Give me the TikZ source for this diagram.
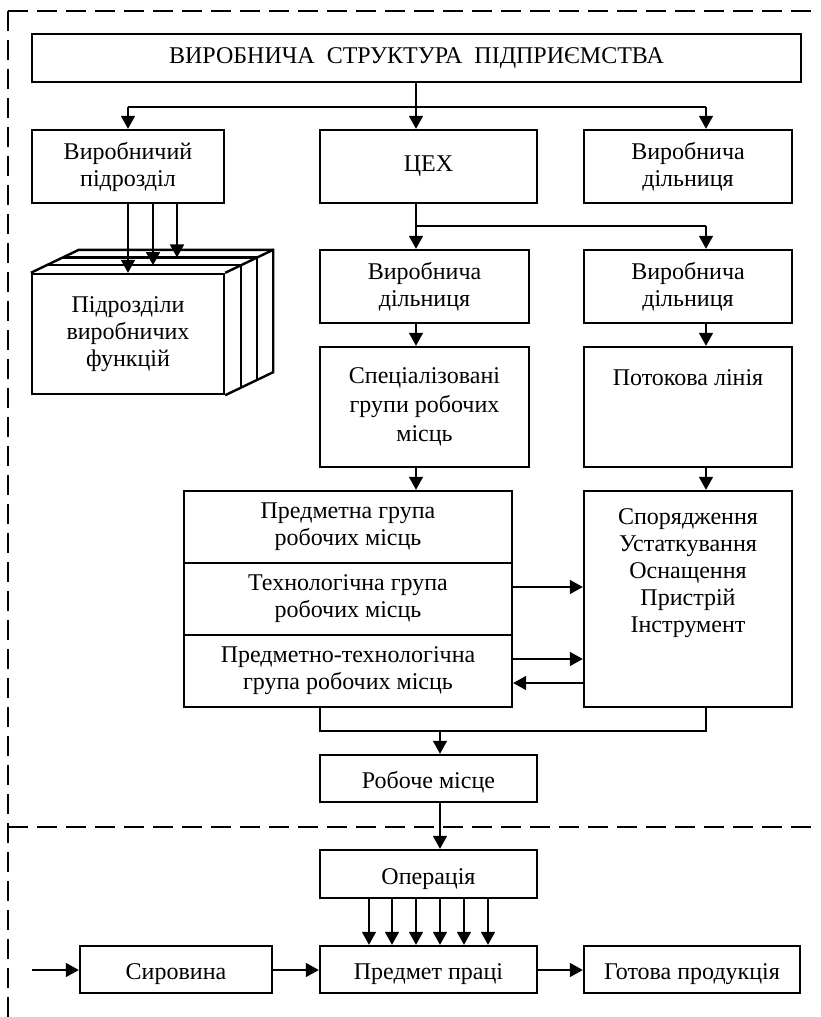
\documentclass[tikz,border=0pt]{standalone}
\usepackage{fontspec}
\setmainfont{Liberation Serif}
\usetikzlibrary{arrows.meta,calc}

\tikzset{
  box/.style={draw, line width=2.4pt, rectangle, inner sep=0pt, align=center,
              font=\fontsize{24}{27}\selectfont},
  oneline/.style={text height=20pt, text depth=0pt},
  lbl/.style={inner sep=0pt, align=center, font=\fontsize{24}{27}\selectfont},
  conn/.style={line width=1.6pt},
  arr/.style={line width=1.6pt, -{Triangle[length=13pt,width=14pt]}},
  frame/.style={line width=2pt, dash pattern=on 20pt off 9pt},
  cubeline/.style={line width=2.4pt, line join=miter}
}

\begin{document}
\begin{tikzpicture}[x=1pt,y=-1pt]
\useasboundingbox (0,0) rectangle (820,1017);

% dashed frames
\coordinate (fc) at (8,11);
\draw[frame] (fc) -- (820,11);
\draw[frame] (fc) -- (8,1017);
\draw[frame] (8,827) -- (820,827);

% vertical axes of the connectors
\coordinate (axL) at (416,0);
\coordinate (axR) at (706,0);
\coordinate (axM) at (440,0);
\coordinate (axA) at (153,0);
\coordinate (axB) at (177,0);

% top level
\node[box, minimum width=769pt, minimum height=48pt] (top) at (416.5,58)
  {ВИРОБНИЧА\ \ СТРУКТУРА\ \ ПІДПРИЄМСТВА};

\node[box, minimum width=192pt, minimum height=73pt] (vp) at (128,166.5)
  {Виробничий\\підрозділ};
\node[box, minimum width=217pt, minimum height=73pt] (tsekh) at (428.5,166.5)
  {ЦЕХ};
\node[box, minimum width=208pt, minimum height=73pt] (vd0) at (688,166.5)
  {Виробнича\\дільниця};

% second and third rows
\node[box, minimum width=209pt, minimum height=73pt] (vd1) at (424.5,286.5)
  {Виробнича\\дільниця};
\node[box, minimum width=208pt, minimum height=73pt] (vd2) at (688,286.5)
  {Виробнича\\дільниця};
\node[box, minimum width=209pt, minimum height=120pt,
      font=\fontsize{24}{29}\selectfont] (spec) at (424.5,407)
  {Спеціалізовані\\групи робочих\\місць};
\node[box, minimum width=208pt, minimum height=120pt] (potok) at (688,407) {};
\node[lbl] (potokt) at (688,378) {Потокова лінія};

% groups of workplaces
\node[box, minimum width=328pt, minimum height=72pt] (g1) at (348,527)
  {Предметна група\\робочих місць};
\node[box, minimum width=328pt, minimum height=72pt] (g2) at (348,599)
  {Технологічна група\\робочих місць};
\node[box, minimum width=328pt, minimum height=72pt] (g3) at (348,671)
  {Предметно-технологічна\\група робочих місць};
\node[box, minimum width=208pt, minimum height=216pt] (equip) at (688,599) {};
\node[lbl] (equipt) at (688,573)
  {Спорядження\\Устаткування\\Оснащення\\Пристрій\\Інструмент};

% workplace and operation
\node[box, oneline, minimum width=217pt, minimum height=47pt] (rm) at (428.5,778.5)
  {Робоче місце};
\node[box, oneline, minimum width=217pt, minimum height=48pt] (op) at (428.5,874)
  {Операція};
\node[box, oneline, minimum width=217pt, minimum height=47pt] (pp) at (428.5,969.5)
  {Предмет праці};
\node[box, oneline, minimum width=192pt, minimum height=47pt] (syr) at (176,969.5)
  {Сировина};
\node[box, oneline, minimum width=216pt, minimum height=47pt] (gp) at (692,969.5)
  {Готова продукція};

% block of production function units (oblique box in three slices)
\node[box, minimum width=192pt, minimum height=120pt] (cube) at (128,334)
  {Підрозділи\\виробничих\\функцій};
\coordinate (c1) at ($(cube.north west)+(16,-7.67)$);
\coordinate (c2) at ($(cube.north west)+(32,-15.33)$);
\coordinate (c3) at ($(cube.north west)+(48,-23)$);
\coordinate (d1) at ($(cube.north east)+(16,-7.67)$);
\coordinate (d2) at ($(cube.north east)+(32,-15.33)$);
\coordinate (d3) at ($(cube.north east)+(48,-23)$);
\coordinate (e3) at ($(cube.south east)+(48,-23)$);
\draw[cubeline] (cube.north west) -- (c3) -- (d3) -- (e3) -- (cube.south east);
\draw[cubeline] (cube.north east) -- (d3);
\draw[cubeline] (c1) -- (d1) -- ($(cube.south east)+(16,-7.67)$);
\draw[cubeline] (c2) -- (d2) -- ($(cube.south east)+(32,-15.33)$);

% connectors: top level
\coordinate (hub) at (top.south -| axL);
\coordinate (bus) at ($(hub)+(0,24)$);
\draw[conn] (hub) -- (bus);
\draw[conn] (bus -| vp) -- (bus -| axR);
\draw[arr] (bus -| vp) -- (vp.north);
\draw[arr] (bus) -- (tsekh.north -| axL);
\draw[arr] (bus -| axR) -- (vd0.north -| axR);

% connectors: cube
\draw[arr] (vp.south) -- (cube.north);
\draw[arr] (vp.south -| axA) -- (c1 -| axA);
\draw[arr] (vp.south -| axB) -- (c2 -| axB);

% connectors: workshop to sections
\coordinate (bus2) at (416,226);
\draw[conn] (tsekh.south -| axL) -- (bus2) -- (bus2 -| axR);
\draw[arr] (bus2) -- (vd1.north -| axL);
\draw[arr] (bus2 -| axR) -- (vd2.north -| axR);
\draw[arr] (vd1.south -| axL) -- (spec.north -| axL);
\draw[arr] (vd2.south -| axR) -- (potok.north -| axR);
\draw[arr] (spec.south -| axL) -- (g1.north -| axL);
\draw[arr] (potok.south -| axR) -- (equip.north -| axR);

% connectors: groups and equipment
\coordinate (h1) at (0,587);
\coordinate (h2) at (0,659);
\coordinate (h3) at (0,683);
\draw[arr] (g2.east |- h1) -- (equip.west |- h1);
\draw[arr] (g3.east |- h2) -- (equip.west |- h2);
\draw[arr] (equip.west |- h3) -- (g3.east |- h3);

% connectors: merge into workplace
\coordinate (bus3) at (320,731);
\draw[conn] (g3.south -| bus3) -- (bus3) -- (bus3 -| axR) -- (equip.south -| axR);
\draw[arr] (bus3 -| axM) -- (rm.north -| axM);
\draw[arr] (rm.south -| axM) -- (op.north -| axM);

% connectors: operation to subject of labour
\foreach \xx [count=\i] in {369,392,416,440,464,488}{
  \coordinate (ax\i) at (\xx,0);
  \draw[arr] (op.south -| ax\i) -- (pp.north -| ax\i);
}

% connectors: material flow
\coordinate (inflow) at (32,970);
\draw[arr] (inflow) -- (syr.west |- inflow);
\draw[arr] (syr.east |- inflow) -- (pp.west |- inflow);
\draw[arr] (pp.east |- inflow) -- (gp.west |- inflow);
\end{tikzpicture}
\end{document}
